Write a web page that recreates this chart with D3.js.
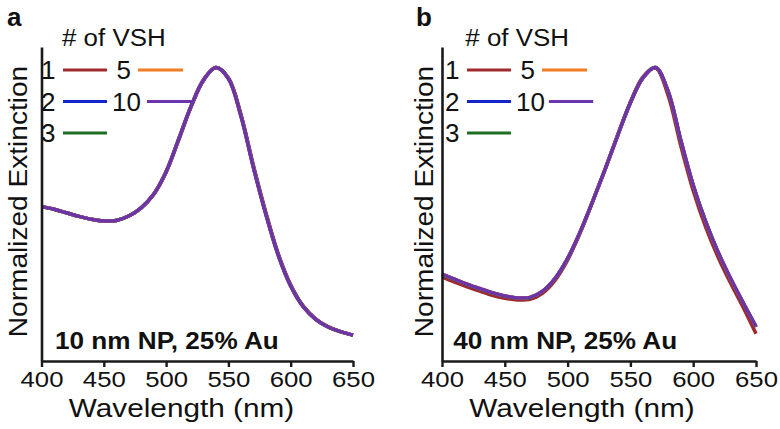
<!DOCTYPE html>
<html>
<head>
<meta charset="utf-8">
<script src="https://cdn.jsdelivr.net/npm/d3@7"></script>
<style>
  html, body { margin: 0; padding: 0; background: #fff; }
  svg { display: block; }
  text { font-family: "Liberation Sans", Arial, Helvetica, sans-serif; fill: #111; }
</style>
</head>
<body>
<svg id="chart" width="780" height="429"></svg>
<script>
// ---------------- DATA ----------------
const wavelengths = [400,410,420,430,440,450,460,470,480,490,500,510,520,530,540,550,560,570,580,590,600,610,620,630,640,650];
const xTicks = [400,450,500,550,600,650];
const seriesNames = ["1","2","3","5","10"];
const seriesColors = ["#a02a2e","#1424c8","#1e6e22","#f07c24","#6b34a8"];

// Panel a: 10 nm NP, 25% Au
const a1  = [.527,.517,.505,.493,.483,.477,.479,.494,.522,.567,.643,.752,.865,.956,1.0,.965,.842,.668,.508,.366,.260,.188,.144,.117,.100,.088];
const a2  = [.527,.517,.505,.493,.483,.477,.479,.494,.522,.568,.644,.754,.867,.957,1.0,.963,.838,.663,.503,.362,.257,.186,.143,.116,.100,.088];
const a3  = [.527,.517,.505,.493,.483,.477,.479,.494,.522,.568,.645,.755,.868,.958,1.0,.963,.837,.662,.502,.361,.256,.186,.142,.116,.100,.088];
const a5  = [.527,.517,.505,.493,.483,.477,.479,.494,.522,.568,.645,.755,.868,.958,1.0,.962,.836,.661,.501,.360,.255,.185,.142,.116,.100,.088];
const a10 = [.527,.517,.505,.493,.483,.477,.479,.494,.522,.568,.645,.755,.868,.958,1.0,.962,.835,.660,.500,.360,.255,.185,.142,.116,.100,.088];

// Panel b: 40 nm NP, 25% Au
const b1  = [.286,.269,.253,.238,.224,.214,.208,.210,.231,.275,.344,.436,.543,.655,.772,.883,.968,.998,.905,.735,.580,.455,.352,.263,.181,.093];
const b2  = [.295,.278,.261,.246,.232,.221,.215,.216,.237,.281,.349,.440,.545,.655,.770,.880,.965,1.0,.919,.753,.598,.473,.368,.278,.196,.116];
const b3  = [.295,.278,.261,.246,.232,.221,.215,.216,.237,.281,.349,.440,.545,.655,.770,.880,.965,1.0,.919,.753,.598,.473,.368,.278,.196,.116];
const b5  = [.296,.279,.262,.247,.233,.222,.215,.217,.238,.282,.350,.440,.545,.655,.770,.880,.965,1.0,.920,.754,.599,.474,.369,.279,.197,.117];
const b10 = [.296,.279,.262,.247,.233,.222,.215,.217,.238,.282,.350,.440,.545,.655,.770,.880,.965,1.0,.920,.755,.600,.475,.370,.280,.197,.118];

const panels = [
  { letter: "a", note: "10 nm NP, 25% Au", series: [a1,a2,a3,a5,a10],
    x0: 41.5, x1: 353, legendShift: 0, labelX: 181.5, yLabelX: 27, titleDx: 20.5, noteDx: 13.5, letterX: 7 },
  { letter: "b", note: "40 nm NP, 25% Au", series: [b1,b2,b3,b5,b10],
    x0: 442, x1: 756, legendShift: 3.5, labelX: 582, yLabelX: 433, titleDx: 23.3, noteDx: 11.3, letterX: 416 }
];

// ---------------- DRAW ----------------
const svg = d3.select("#chart");
const yBottom = 361, yTop = 47;
const y = d3.scaleLinear().domain([0, 1.07]).range([yBottom, yTop]);

function txt(g, str, x, yy, o) {
  o = o || {};
  const sx = o.sx || 1;
  let tr = `translate(${x},${yy})`;
  if (o.rotate) tr += ` rotate(${o.rotate})`;
  tr += ` scale(${sx},1)`;
  return g.append("text")
    .attr("transform", tr)
    .attr("text-anchor", o.anchor || "start")
    .style("font-size", (o.size || 20) + "px")
    .style("font-weight", o.weight || "normal")
    .text(str);
}

panels.forEach(p => {
  const g = svg.append("g");
  const x = d3.scaleLinear().domain([400, 650]).range([p.x0, p.x1]);

  // curves
  const line = d3.line()
    .x((d, i) => x(wavelengths[i]))
    .y(d => y(d))
    .curve(d3.curveCatmullRom.alpha(0.5));
  p.series.forEach((s, k) => {
    g.append("path")
      .datum(s)
      .attr("d", line)
      .attr("fill", "none")
      .attr("stroke", seriesColors[k])
      .attr("stroke-width", 3.5)
      .attr("stroke-linejoin", "round");
  });

  // x axis
  const xAxis = d3.axisBottom(x).tickValues(xTicks).tickSize(6).tickSizeOuter(0).tickFormat(d3.format("d"));
  const gx = g.append("g").attr("transform", `translate(0,${yBottom})`).call(xAxis);
  gx.select(".domain").attr("stroke", "#1a1a1a").attr("stroke-width", 2.6);
  gx.selectAll(".tick line").attr("stroke", "#1a1a1a").attr("stroke-width", 2.4);
  gx.selectAll(".tick text")
    .attr("y", 26.5).attr("dy", 0)
    .attr("transform", "scale(1.17,1)")
    .style("font-size", "22px")
    .style("font-family", '"Liberation Sans", Arial, sans-serif')
    .attr("fill", "#111");

  // y axis (line only)
  const yAxis = d3.axisLeft(y).tickValues([]).tickSize(0).tickSizeOuter(0);
  const gy = g.append("g").attr("transform", `translate(${p.x0},0)`).call(yAxis);
  gy.select(".domain").attr("stroke", "#1a1a1a").attr("stroke-width", 2.6);

  // axis labels
  txt(g, "Wavelength (nm)", p.labelX, 416.5, { size: 25, anchor: "middle", sx: 1.19 });
  txt(g, "Normalized Extinction", p.yLabelX, 201.5, { size: 26, anchor: "middle", rotate: -90, sx: 1.08 });

  // panel letter
  txt(g, p.letter, p.letterX, 25.5, { size: 26, weight: "bold" });

  // legend
  const ax = p.x0, s = p.legendShift;
  txt(g, "# of VSH", ax + p.titleDx, 45.5, { size: 24, sx: 1.08 });
  const rows = [70, 101.5, 133];
  const leg = [
    { name: "1",  k: 0, tx: ax - 0.5 + s,  l0: ax + 21.5 + s, l1: ax + 65.5 + s, ry: rows[0] },
    { name: "2",  k: 1, tx: ax - 0.5 + s,  l0: ax + 21.5 + s, l1: ax + 65.5 + s, ry: rows[1] },
    { name: "3",  k: 2, tx: ax - 0.5 + s,  l0: ax + 21.5 + s, l1: ax + 65.5 + s, ry: rows[2] },
    { name: "5",  k: 3, tx: ax + 75 + s,   l0: ax + 96.5 + s, l1: ax + 141.5 + s, ry: rows[0] },
    { name: "10", k: 4, tx: ax + 70.5 + s, l0: ax + 105.5 + s*0.4, l1: ax + 150.5 + s*0.2, ry: rows[1] }
  ];
  leg.forEach(e => {
    txt(g, e.name, e.tx, e.ry + 9, { size: 25, sx: 1.04 });
    g.append("line")
      .attr("x1", e.l0).attr("x2", e.l1)
      .attr("y1", e.ry).attr("y2", e.ry)
      .attr("stroke", seriesColors[e.k])
      .attr("stroke-width", 3.2);
  });

  // annotation
  txt(g, p.note, ax + p.noteDx, 348.5, { size: 24, weight: "bold", sx: 1.09 });
});
</script>
</body>
</html>
